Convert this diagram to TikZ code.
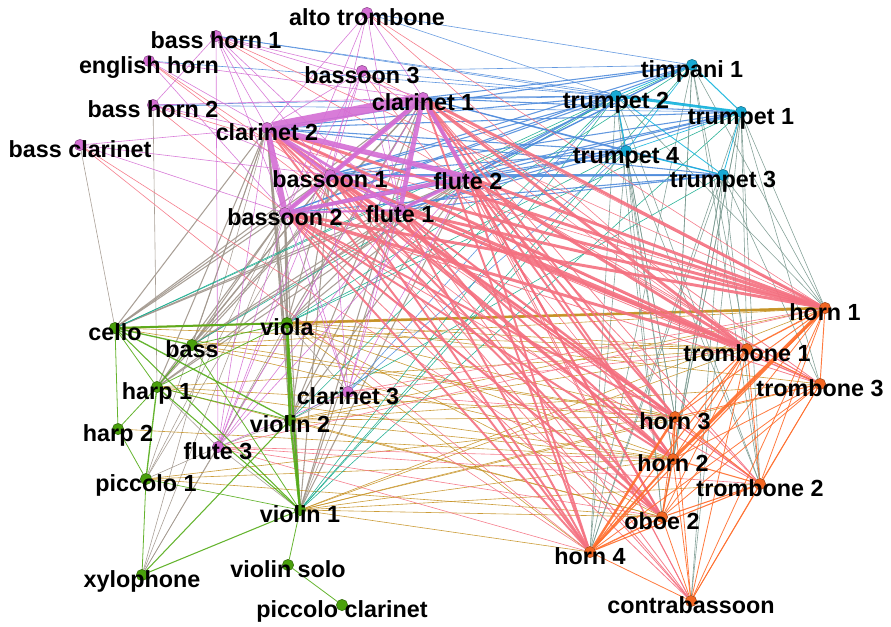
\documentclass[tikz,border=0pt]{standalone}
\usepackage{fontspec}
\setmainfont{Liberation Sans}
\usetikzlibrary{backgrounds}
\definecolor{cPurple}{RGB}{212,110,212}
\definecolor{cCyan}{RGB}{24,170,212}
\definecolor{cGreen}{RGB}{74,160,12}
\definecolor{cOrange}{RGB}{242,102,34}
\definecolor{ePink}{RGB}{244,112,128}
\definecolor{eBlue}{RGB}{80,140,220}
\definecolor{eGrey}{RGB}{160,150,140}
\definecolor{eGold}{RGB}{198,146,36}
\definecolor{eTeal}{RGB}{20,170,140}
\definecolor{eSage}{RGB}{120,152,142}
\definecolor{eGreen}{RGB}{84,172,24}
\definecolor{eOrange}{RGB}{255,108,42}
\definecolor{eCyan}{RGB}{20,180,220}

\begin{document}
\begin{tikzpicture}[x=0.75pt,y=-0.75pt]
\tikzset{instr/.style={circle, fill=#1, draw=#1!65!black, line width=0.4pt, minimum size=8.5pt, inner sep=0pt},
  lbl/.style={font=\fontsize{17.5}{17.5}\selectfont\bfseries, inner sep=0pt, anchor=base, yshift=-5pt},
  edge/.style={line width=0.45pt, opacity=0.9},
  pk/.style={edge, draw=ePink}, mg/.style={edge, draw=cPurple}, bl/.style={edge, draw=eBlue},
  gb/.style={edge, draw=eGrey}, gd/.style={edge, draw=eGold}, tl/.style={edge, draw=eTeal},
  gg/.style={edge, draw=eSage}, gn/.style={edge, draw=eGreen}, og/.style={edge, draw=eOrange},
  cy/.style={edge, draw=eCyan}}
\useasboundingbox (0,0) rectangle (891,626);

% instruments
\foreach \n/\x/\y/\t/\c in {
  at/367/13/alto trombone/cPurple, bh1/216/36/bass horn 1/cPurple, eh/149/61/english horn/cPurple,
  bn3/362/71/bassoon 3/cPurple, bh2/153/105/bass horn 2/cPurple, cl1/423/98/clarinet 1/cPurple,
  cl2/267/128/clarinet 2/cPurple, bcl/80/145/bass clarinet/cPurple, bn1/330/175/bassoon 1/cPurple,
  fl2/468/177/flute 2/cPurple, bn2/285/213/bassoon 2/cPurple, fl1/400/210/flute 1/cPurple,
  cl3/348/392/clarinet 3/cPurple, fl3/218/447/flute 3/cPurple,
  tim/692/65/timpani 1/cCyan, tp2/616/96/trumpet 2/cCyan, tp1/741/112/trumpet 1/cCyan,
  tp4/626/151/trumpet 4/cCyan, tp3/723/175/trumpet 3/cCyan,
  vc/115/328/cello/cGreen, va/287/323/viola/cGreen, db/192/345/bass/cGreen, hp1/157/387/harp 1/cGreen,
  vn2/290/420/violin 2/cGreen, hp2/118/429/harp 2/cGreen, pc1/146/479/piccolo 1/cGreen,
  vn1/300/510/violin 1/cGreen, vso/288/565/violin solo/cGreen, xy/142/575/xylophone/cGreen,
  pcl/342/605/piccolo clarinet/cGreen,
  h1/825/308/horn 1/cOrange, tb1/747/349/trombone 1/cOrange, tb3/820/384/trombone 3/cOrange,
  h3/675/417/horn 3/cOrange, h2/673/459/horn 2/cOrange, tb2/760/484/trombone 2/cOrange,
  ob2/662/517/oboe 2/cOrange, h4/590/552/horn 4/cOrange, cbn/691/601/contrabassoon/cOrange}
  \node[instr=\c, label={[lbl]below:\t}] (\n) at (\x,\y) {};

\begin{pgfonlayer}{background}
% strings to winds and brass
\foreach \a in {cl1,cl2,bn1,bn2,fl1,fl2}
  \foreach \b in {va,vn1,vn2,vc,db,hp1}
    \draw[gb, line width=0.8pt] (\a) -- (\b);
\foreach \a/\b in {cl2/pc1, cl2/xy, bn2/pc1, bn2/xy, bn1/pc1, cl1/xy, fl3/va, fl3/vn1, fl3/vn2, fl3/hp1,
  fl3/pc1, fl3/xy, cl3/va, cl3/vn1, cl3/vn2, bcl/vc, bh2/hp1}
  \draw[gb] (\a) -- (\b);
\draw[gb, line width=1.4pt] (cl2) -- (vn1);
\draw[gb, line width=1.4pt] (bn2) -- (va);
\draw[gd, line width=2pt] (va) -- (h1);
\draw[gd, line width=1.2pt] (vc) -- (h1);
\foreach \a/\b in {vc/tb1, vc/h3, db/h1, db/tb1, db/h3, db/h2, hp1/tb1, hp1/h3, hp1/h2, hp1/ob2,
  va/tb1, va/h3, va/h2, va/ob2, va/h4, va/tb3, vn2/h1, vn2/h3, vn2/h2, vn2/tb3, vn2/tb1, vn2/ob2,
  vn1/h1, vn1/h3, vn1/h2, vn1/tb1, vn1/ob2, vn1/tb2, vn1/h4, vn1/tb3, pc1/h2, pc1/h3, pc1/ob2, hp2/h2}
  \draw[gd] (\a) -- (\b);
\foreach \a/\b in {tp2/vc, tim/vc, tp1/va, tp2/vn2, tp4/vn1, tp1/vn1, tim/va, tp2/db, tp3/vn2,
  tim/vn1, tp4/va, tp2/vn1}
  \draw[tl] (\a) -- (\b);
\foreach \a/\b in {tim/h1, tim/tb1, tim/h3, tim/h2, tim/h4, tim/tb2, tp1/h1, tp1/tb3, tp1/tb1, tp1/tb2,
  tp1/h2, tp1/h4, tp1/ob2, tp2/h3, tp2/h2, tp2/h4, tp2/ob2, tp2/tb2, tp2/h1, tp4/h4, tp4/ob2, tp4/h3,
  tp4/h2, tp4/tb2, tp3/tb2, tp3/h2, tp3/tb3, tp3/h4, tp3/ob2, tp3/h1, tp3/cbn, tp1/cbn}
  \draw[gg] (\a) -- (\b);
% winds to trumpets
\foreach \a in {cl1,cl2,bn1,bn2,fl1,fl2}
  \foreach \b in {tp1,tp2,tp3,tp4,tim}
    \draw[bl, line width=0.8pt] (\a) -- (\b);
\foreach \a/\b in {at/tp2, at/tim, bh1/tp1, bh1/tp2, bh2/tp2, bh2/tp1, bn3/tp2, bn3/tim, cl3/tp4,
  cl3/tp2, eh/tp2}
  \draw[bl] (\a) -- (\b);
% winds to horns
\foreach \a in {cl1,cl2,bn1,bn2,fl1,fl2} {
  \foreach \b in {h1,tb1}
    \draw[pk, line width=2.2pt] (\a) -- (\b);
  \foreach \b in {h2,h3,h4,ob2}
    \draw[pk, line width=1.5pt] (\a) -- (\b);
  \foreach \b in {tb2,tb3,cbn}
    \draw[pk, line width=0.6pt] (\a) -- (\b);
}
\foreach \a/\b in {at/h1, at/tb1, bh1/h1, bh1/tb3, eh/h3, eh/h2, bh2/h1, bh2/ob2, bcl/h4, bcl/ob2,
  bn3/h1, bn3/h2, bn3/tb1, fl3/h1, fl3/h2, fl3/h4, fl3/ob2, fl3/tb2, cl3/h1, cl3/h4, cl3/h3, cl3/tb1}
  \draw[pk] (\a) -- (\b);
% winds
\foreach \a/\b in {at/cl2, at/bn1, at/bn2, at/fl1, at/cl1, bh1/bh2, bh1/cl2, bh1/bn1, bh1/bn2, bh1/fl1,
  bh1/cl1, bh1/bn3, eh/cl2, eh/bn2, eh/cl1, bh2/cl1, bh2/bn1, bh2/fl2, bcl/cl2, bcl/bn1, bcl/bn2,
  bn3/cl2, bn3/bn2, bn3/fl1, bn3/bn1, fl3/cl1, fl3/cl2, fl3/bn1, fl3/bn2, fl3/fl1, fl3/fl2, fl3/bh1,
  fl3/bn3, cl3/cl1, cl3/cl2, cl3/bn1, cl3/fl1, cl3/bn2, cl3/fl2, cl3/fl3}
  \draw[mg] (\a) -- (\b);
\foreach \a/\b/\w in {cl1/cl2/7.5, cl2/bn2/4.5, cl2/fl2/4, cl1/bn2/3.5, cl1/fl1/3.5, cl1/fl2/3, bn2/fl2/3,
  fl1/fl2/2.5, cl2/bn1/2, cl2/fl1/2, cl1/bn1/1.5, bn1/bn2/1.5, bn2/fl1/1.5, bn1/fl2/1.2, bn1/fl1/1}
  \draw[mg, line width=\w pt] (\a) -- (\b);
% strings
\foreach \a/\b/\w in {vc/va/1.5, vc/db/1, vc/hp1/0.6, vc/hp2/0.6, vc/vn2/1, vc/vn1/0.8, db/va/0.6,
  db/hp1/0.6, hp1/hp2/0.6, hp1/pc1/1, hp1/vn2/0.6, hp1/vn1/0.8, hp1/va/0.6, hp2/pc1/0.6, pc1/xy/0.6,
  pc1/vn1/0.5, xy/vn1/0.8, xy/vn2/0.8, va/vn2/2, va/vn1/1.5, vn2/vn1/1.5, vn1/vso/0.6, vso/pcl/0.6,
  db/vn1/0.6}
  \draw[gn, line width=\w pt] (\a) -- (\b);
% brass
\foreach \a/\b/\w in {h1/h2/2.5, h3/h4/1.8, h2/h4/1.5, h1/tb1/1, h1/tb3/0.7, h1/h3/0.7, h1/tb2/0.6,
  h1/ob2/0.6, h1/h4/0.8, h1/cbn/0.6, tb1/h3/0.7, tb1/h2/0.7, tb1/tb2/0.6, tb1/h4/0.8, tb1/ob2/0.6,
  tb1/cbn/0.6, tb1/tb3/0.6, tb3/h3/0.6, tb3/h2/0.6, tb3/ob2/0.6, tb3/tb2/0.6, tb3/h4/0.6, tb3/cbn/0.6,
  h3/h2/1, h3/ob2/0.6, h3/tb2/0.6, h3/cbn/0.6, h2/ob2/1, h2/tb2/0.8, h2/cbn/0.6, tb2/ob2/0.8,
  tb2/h4/0.8, tb2/cbn/0.6, ob2/h4/1, ob2/cbn/0.6, h4/cbn/0.6}
  \draw[og, line width=\w pt] (\a) -- (\b);
\foreach \a/\b/\w in {tp1/tp2/2, tim/tp1/0.8, tim/tp2/0.6, tp2/tp4/0.8, tp4/tp3/0.8, tp2/tp3/0.6,
  tp1/tp3/0.6, tp1/tp4/0.5, tim/tp4/0.5}
  \draw[cy, line width=\w pt] (\a) -- (\b);
\end{pgfonlayer}
\end{tikzpicture}
\end{document}
